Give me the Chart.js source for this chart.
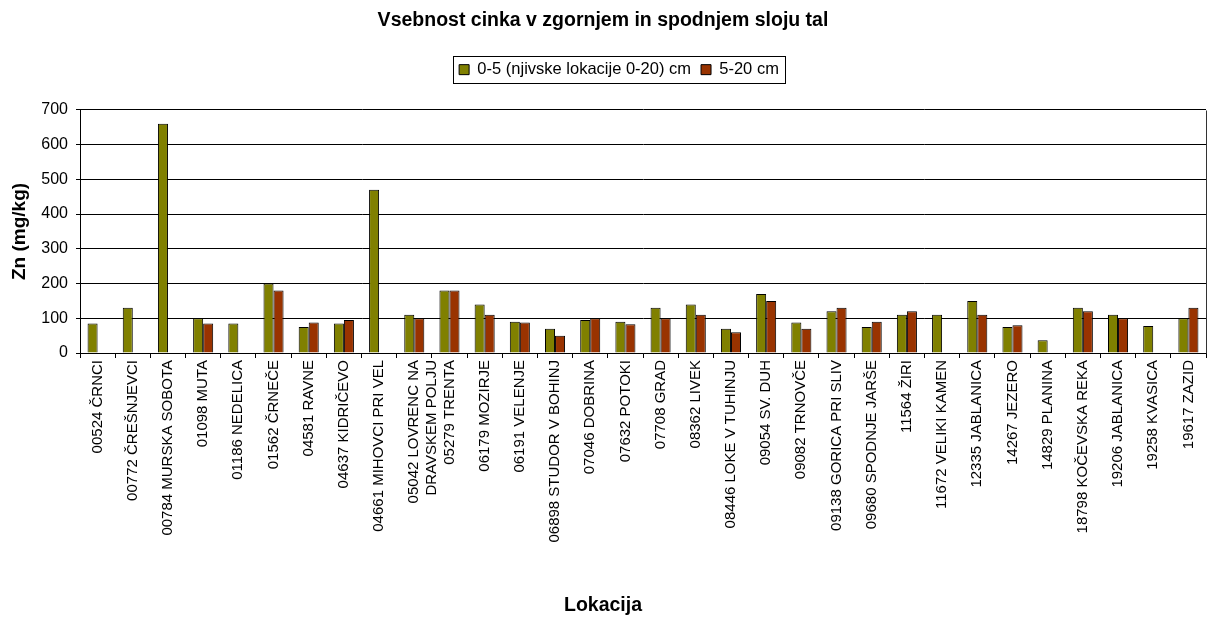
<!DOCTYPE html>
<html>
<head>
<meta charset="utf-8">
<script src="https://cdn.jsdelivr.net/npm/chart.js@4/dist/chart.umd.min.js"></script>
<style>
  html, body { margin: 0; padding: 0; background: #fff; }
  #wrap { width: 1209px; height: 617px; }
</style>
</head>
<body>
<div id="wrap"><canvas id="zn-chart" width="1209" height="617"></canvas></div>
<script>
// Locations (x categories)
const locations = [
  '00524 ČRNCI', '00772 ČREŠNJEVCI', '00784 MURSKA SOBOTA', '01098 MUTA',
  '01186 NEDELICA', '01562 ČRNEČE', '04581 RAVNE', '04637 KIDRIČEVO',
  '04661 MIHOVCI PRI VEL', ['05042 LOVRENC NA', 'DRAVSKEM POLJU'], '05279 TRENTA', '06179 MOZIRJE',
  '06191 VELENJE', '06898 STUDOR V BOHINJ', '07046 DOBRINA', '07632 POTOKI',
  '07708 GRAD', '08362 LIVEK', '08446 LOKE V TUHINJU', '09054 SV. DUH',
  '09082 TRNOVČE', '09138 GORICA PRI SLIV', '09680 SPODNJE JARŠE', '11564 ŽIRI',
  '11672 VELIKI KAMEN', '12335 JABLANICA', '14267 JEZERO', '14829 PLANINA',
  '18798 KOČEVSKA REKA', '19206 JABLANICA', '19258 KVASICA', '19617 ZAZID'
];

// Zn (mg/kg), 0-5 cm (field sites 0-20 cm)
const topLayer = [
  85, 130, 660, 100, 85, 200, 75, 85,
  470, 110, 180, 140, 90, 70, 95, 90,
  130, 140, 70, 170, 88, 120, 75, 110,
  110, 150, 75, 37, 130, 110, 78, 100
];

// Zn (mg/kg), 5-20 cm
const bottomLayer = [
  null, null, null, 85, null, 180, 88, 95,
  null, 100, 180, 110, 88, 50, 100, 83,
  100, 110, 60, 150, 70, 130, 90, 120,
  null, 110, 80, null, 120, 100, null, 130
];

const yTicks = [0, 100, 200, 300, 400, 500, 600, 700];

const colors = {
  olive: '#808000',
  rust: '#993300',
  ink: '#000000',
  frame: '#333333'
};
const fontFamily = "Arial, 'Liberation Sans', sans-serif";

// Legend: extra gap below it, nudged right a little like the original
const legendSpacing = {
  id: 'legendSpacing',
  beforeLayout(chart) {
    const lg = chart.legend;
    if (lg && !lg._spaced) {
      const fit = lg.fit.bind(lg);
      lg.fit = function() { fit(); this.height += 22; };
      lg._spaced = true;
    }
  },
  afterLayout(chart) {
    const lg = chart.legend;
    if (lg) { lg.left += 16; lg.right += 16; }
  }
};

// Frame on right of plot area and box around legend
const framePlugin = {
  id: 'frame',
  afterDraw(chart) {
    const ctx = chart.ctx;
    const a = chart.chartArea;
    ctx.save();
    ctx.strokeStyle = colors.frame;
    ctx.lineWidth = 1;
    ctx.beginPath();
    ctx.moveTo(Math.round(a.right) + 0.5, Math.round(a.top) + 0.5);
    ctx.lineTo(Math.round(a.right) + 0.5, Math.round(a.bottom) + 0.5);
    ctx.stroke();

    const boxes = chart.legend.legendHitBoxes;
    if (boxes && boxes.length) {
      const x0 = Math.min(...boxes.map(b => b.left)) - 6;
      const x1 = Math.max(...boxes.map(b => b.left + b.width)) + 6;
      const y0 = Math.min(...boxes.map(b => b.top)) - 5;
      const y1 = Math.max(...boxes.map(b => b.top + b.height)) + 5;
      ctx.strokeStyle = colors.ink;
      ctx.strokeRect(Math.round(x0) + 0.5, Math.round(y0) + 0.5, Math.round(x1 - x0), Math.round(y1 - y0));
    }
    ctx.restore();
  }
};

new Chart(document.getElementById('zn-chart'), {
  type: 'bar',
  data: {
    labels: locations,
    datasets: [{
      label: '0-5 (njivske lokacije 0-20) cm',
      data: topLayer,
      backgroundColor: colors.olive,
      borderColor: colors.ink,
      borderWidth: 1,
      borderSkipped: 'bottom',
      barPercentage: 1,
      categoryPercentage: 0.57
    }, {
      label: '5-20 cm',
      data: bottomLayer,
      backgroundColor: colors.rust,
      borderColor: colors.ink,
      borderWidth: 1,
      borderSkipped: 'bottom',
      barPercentage: 1,
      categoryPercentage: 0.57
    }]
  },
  options: {
    responsive: false,
    animation: false,
    layout: {
      padding: { left: 0, right: 3, top: 0, bottom: 0 }
    },
    plugins: {
      title: {
        display: true,
        text: 'Vsebnost cinka v zgornjem in spodnjem sloju tal',
        color: colors.ink,
        font: { family: fontFamily, size: 19.5, weight: 'bold' },
        padding: { top: 9, bottom: 19 }
      },
      // x axis caption, centred under the whole figure like the original
      subtitle: {
        display: true,
        position: 'bottom',
        text: 'Lokacija',
        color: colors.ink,
        font: { family: fontFamily, size: 19.5, weight: 'bold' },
        padding: { top: 0, bottom: 0 }
      },
      legend: {
        display: true,
        labels: {
          color: colors.ink,
          font: { family: fontFamily, size: 16.5 },
          boxWidth: 10,
          boxHeight: 10,
          padding: 10
        }
      },
      tooltip: { enabled: false }
    },
    scales: {
      x: {
        offset: true,
        grid: {
          display: true,
          offset: true,
          drawOnChartArea: false,
          drawTicks: true,
          tickLength: 5,
          color: colors.ink
        },
        border: { display: true, color: colors.ink },
        ticks: {
          autoSkip: false,
          minRotation: 90,
          maxRotation: 90,
          padding: 2,
          color: colors.ink,
          font: { family: fontFamily, size: 15 }
        },
        afterFit(scale) { scale.height = 240.6; }
      },
      y: {
        min: 0,
        max: 700,
        afterBuildTicks(scale) { scale.ticks = yTicks.map(v => ({ value: v })); },
        grid: {
          color: colors.ink,
          drawTicks: true,
          tickLength: 4
        },
        border: { display: true, color: colors.ink },
        ticks: {
          padding: 8,
          color: colors.ink,
          font: { family: fontFamily, size: 16 }
        },
        title: {
          display: true,
          text: 'Zn (mg/kg)',
          color: colors.ink,
          font: { family: fontFamily, size: 19, weight: 'bold' },
          padding: { top: 8, bottom: 0 }
        },
        afterFit(scale) { scale.width = 80; }
      }
    }
  },
  plugins: [legendSpacing, framePlugin]
});
</script>
</body>
</html>
